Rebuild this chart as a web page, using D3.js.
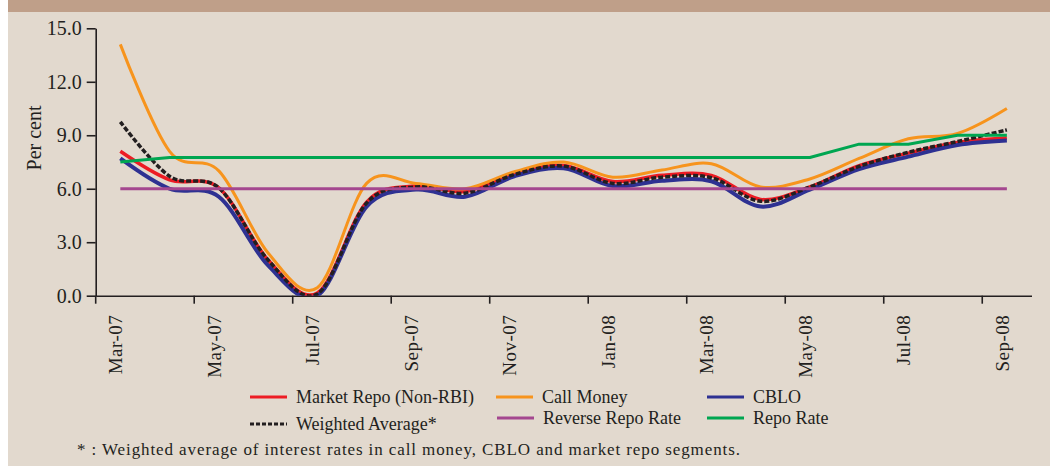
<!DOCTYPE html>
<meta charset="utf-8">
<style>
body { margin: 0; background: #fff; }
svg text { font-family: "Liberation Serif", serif; fill: #231f20; }
.axis path, .axis line { stroke: #231f20; stroke-width: 1.6; }
</style>
<script src="https://cdnjs.cloudflare.com/ajax/libs/d3/7.8.5/d3.min.js"></script>
<body>
<script>
const months = ['Mar-07','Apr-07','May-07','Jun-07','Jul-07','Aug-07','Sep-07','Oct-07','Nov-07','Dec-07',
  'Jan-08','Feb-08','Mar-08','Apr-08','May-08','Jun-08','Jul-08','Aug-08','Sep-08'];

const marketRepo  = [8.1, 6.5, 6.05, 2.0, 0.15, 5.25, 6.15, 5.85, 6.85, 7.3, 6.4, 6.75, 6.75, 5.4, 6.1, 7.3, 8.0, 8.6, 8.85];
const callMoney   = [14.1, 8.1, 7.0, 2.4, 0.45, 6.3, 6.3, 6.0, 6.95, 7.5, 6.65, 7.05, 7.4, 6.1, 6.55, 7.7, 8.8, 9.1, 10.5];
const cblo        = [7.7, 6.0, 5.55, 1.7, 0.0, 5.0, 5.95, 5.55, 6.7, 7.15, 6.15, 6.45, 6.42, 5.0, 5.95, 7.1, 7.8, 8.45, 8.7];
const weighted    = [9.75, 6.7, 6.05, 2.0, 0.1, 5.2, 6.1, 5.75, 6.8, 7.27, 6.3, 6.65, 6.62, 5.3, 6.1, 7.25, 8.05, 8.65, 9.3];
const reverseRepo = [6, 6, 6, 6, 6, 6, 6, 6, 6, 6, 6, 6, 6, 6, 6, 6, 6, 6, 6];
const repo        = [7.5, 7.75, 7.75, 7.75, 7.75, 7.75, 7.75, 7.75, 7.75, 7.75, 7.75, 7.75, 7.75, 7.75, 7.75, 8.5, 8.5, 9.0, 9.0];

const yTicks = [0, 3, 6, 9, 12, 15];
const labelled = months.filter((m, i) => i % 2 === 0);

const series = [
  {name: 'Market Repo (Non-RBI)', values: marketRepo,  color: '#ed1c24', width: 3.5, smooth: true},
  {name: 'Call Money',            values: callMoney,   color: '#f7941d', width: 3,   smooth: true},
  {name: 'CBLO',                  values: cblo,        color: '#2e3192', width: 4,   smooth: true},
  {name: 'Weighted Average*',     values: weighted,    color: '#231f20', width: 3.5, smooth: true, dash: '5,2'},
  {name: 'Reverse Repo Rate',     values: reverseRepo, color: '#a4478f', width: 3,   smooth: false},
  {name: 'Repo Rate',             values: repo,        color: '#00a651', width: 3,   smooth: false}
];

const W = 1050, H = 466;
const svg = d3.select('body').append('svg').attr('width', W).attr('height', H);

svg.append('rect').attr('width', W).attr('height', H).attr('fill', '#fff');
svg.append('rect').attr('x', 8).attr('width', W - 8).attr('height', H).attr('fill', '#e2d9ce');
svg.append('rect').attr('x', 8).attr('width', W - 8).attr('height', 12).attr('fill', '#bf9f89');

const x = d3.scaleBand().domain(months).range([95.7, 1031.5]).padding(0);
const y = d3.scaleLinear().domain([0, 15]).range([295.7, 28.3]);
const cx = m => x(m) + x.bandwidth() / 2;

// y axis
const yAxis = svg.append('g')
  .attr('class', 'axis')
  .attr('transform', `translate(${x.range()[0]},0)`)
  .call(d3.axisLeft(y).tickValues(yTicks).tickFormat(d3.format('.1f')).tickSize(9).tickSizeOuter(0).tickPadding(5));
yAxis.selectAll('text').style('font-size', '20px').attr('fill', '#231f20');

svg.append('text')
  .attr('transform', 'translate(41,138) rotate(-90)')
  .attr('text-anchor', 'middle')
  .style('font-size', '20px')
  .text('Per cent');

// x axis: ticks at band edges, labels at band centres
const xAxis = svg.append('g')
  .attr('class', 'axis')
  .attr('transform', `translate(0,${y(0)})`)
  .call(d3.axisBottom(x).tickValues(labelled).tickSize(0).tickSizeOuter(0).tickFormat(''));

xAxis.selectAll('.edge')
  .data(labelled)
  .enter().append('line')
  .attr('x1', d => x(d)).attr('x2', d => x(d))
  .attr('y1', 0).attr('y2', 8)
  .attr('stroke', '#231f20').attr('stroke-width', 1.6);

xAxis.selectAll('.lbl')
  .data(labelled)
  .enter().append('text')
  .attr('transform', d => `translate(${cx(d) + 2},19) rotate(-90)`)
  .attr('text-anchor', 'end')
  .style('font-size', '19px')
  .style('letter-spacing', '0.5px')
  .text(d => d);

// lines
svg.append('clipPath').attr('id', 'plot')
  .append('rect').attr('x', 90).attr('y', 20).attr('width', 950).attr('height', y(0) - 20);

const plot = svg.append('g').attr('clip-path', 'url(#plot)');

series.forEach(s => {
  const line = d3.line()
    .x((d, i) => cx(months[i]))
    .y(d => y(d))
    .curve(s.smooth ? d3.curveCardinal.tension(0) : d3.curveLinear);
  plot.append('path')
    .datum(s.values)
    .attr('d', line)
    .attr('fill', 'none')
    .attr('stroke', s.color)
    .attr('stroke-width', s.width)
    .attr('stroke-dasharray', s.dash || null)
    .attr('stroke-linejoin', 'round');
});

// legend
const legendPos = [
  {x: 250, y: 397}, {x: 496, y: 397}, {x: 707, y: 397},
  {x: 250, y: 424}, {x: 497, y: 418}, {x: 707, y: 418}
];
series.forEach((s, i) => {
  const p = legendPos[i];
  svg.append('line')
    .attr('x1', p.x).attr('x2', p.x + 37)
    .attr('y1', p.y).attr('y2', p.y)
    .attr('stroke', s.color)
    .attr('stroke-width', 3)
    .attr('stroke-dasharray', s.dash ? '4,2' : null);
  svg.append('text')
    .attr('x', p.x + 46).attr('y', p.y + 6)
    .style('font-size', '18px')
    .text(s.name);
});

svg.append('text')
  .attr('x', 77).attr('y', 455)
  .style('font-size', '17px')
  .style('letter-spacing', '0.9px')
  .text('* : Weighted average of interest rates in call money, CBLO and market repo segments.');
</script>
</body>
</html>
